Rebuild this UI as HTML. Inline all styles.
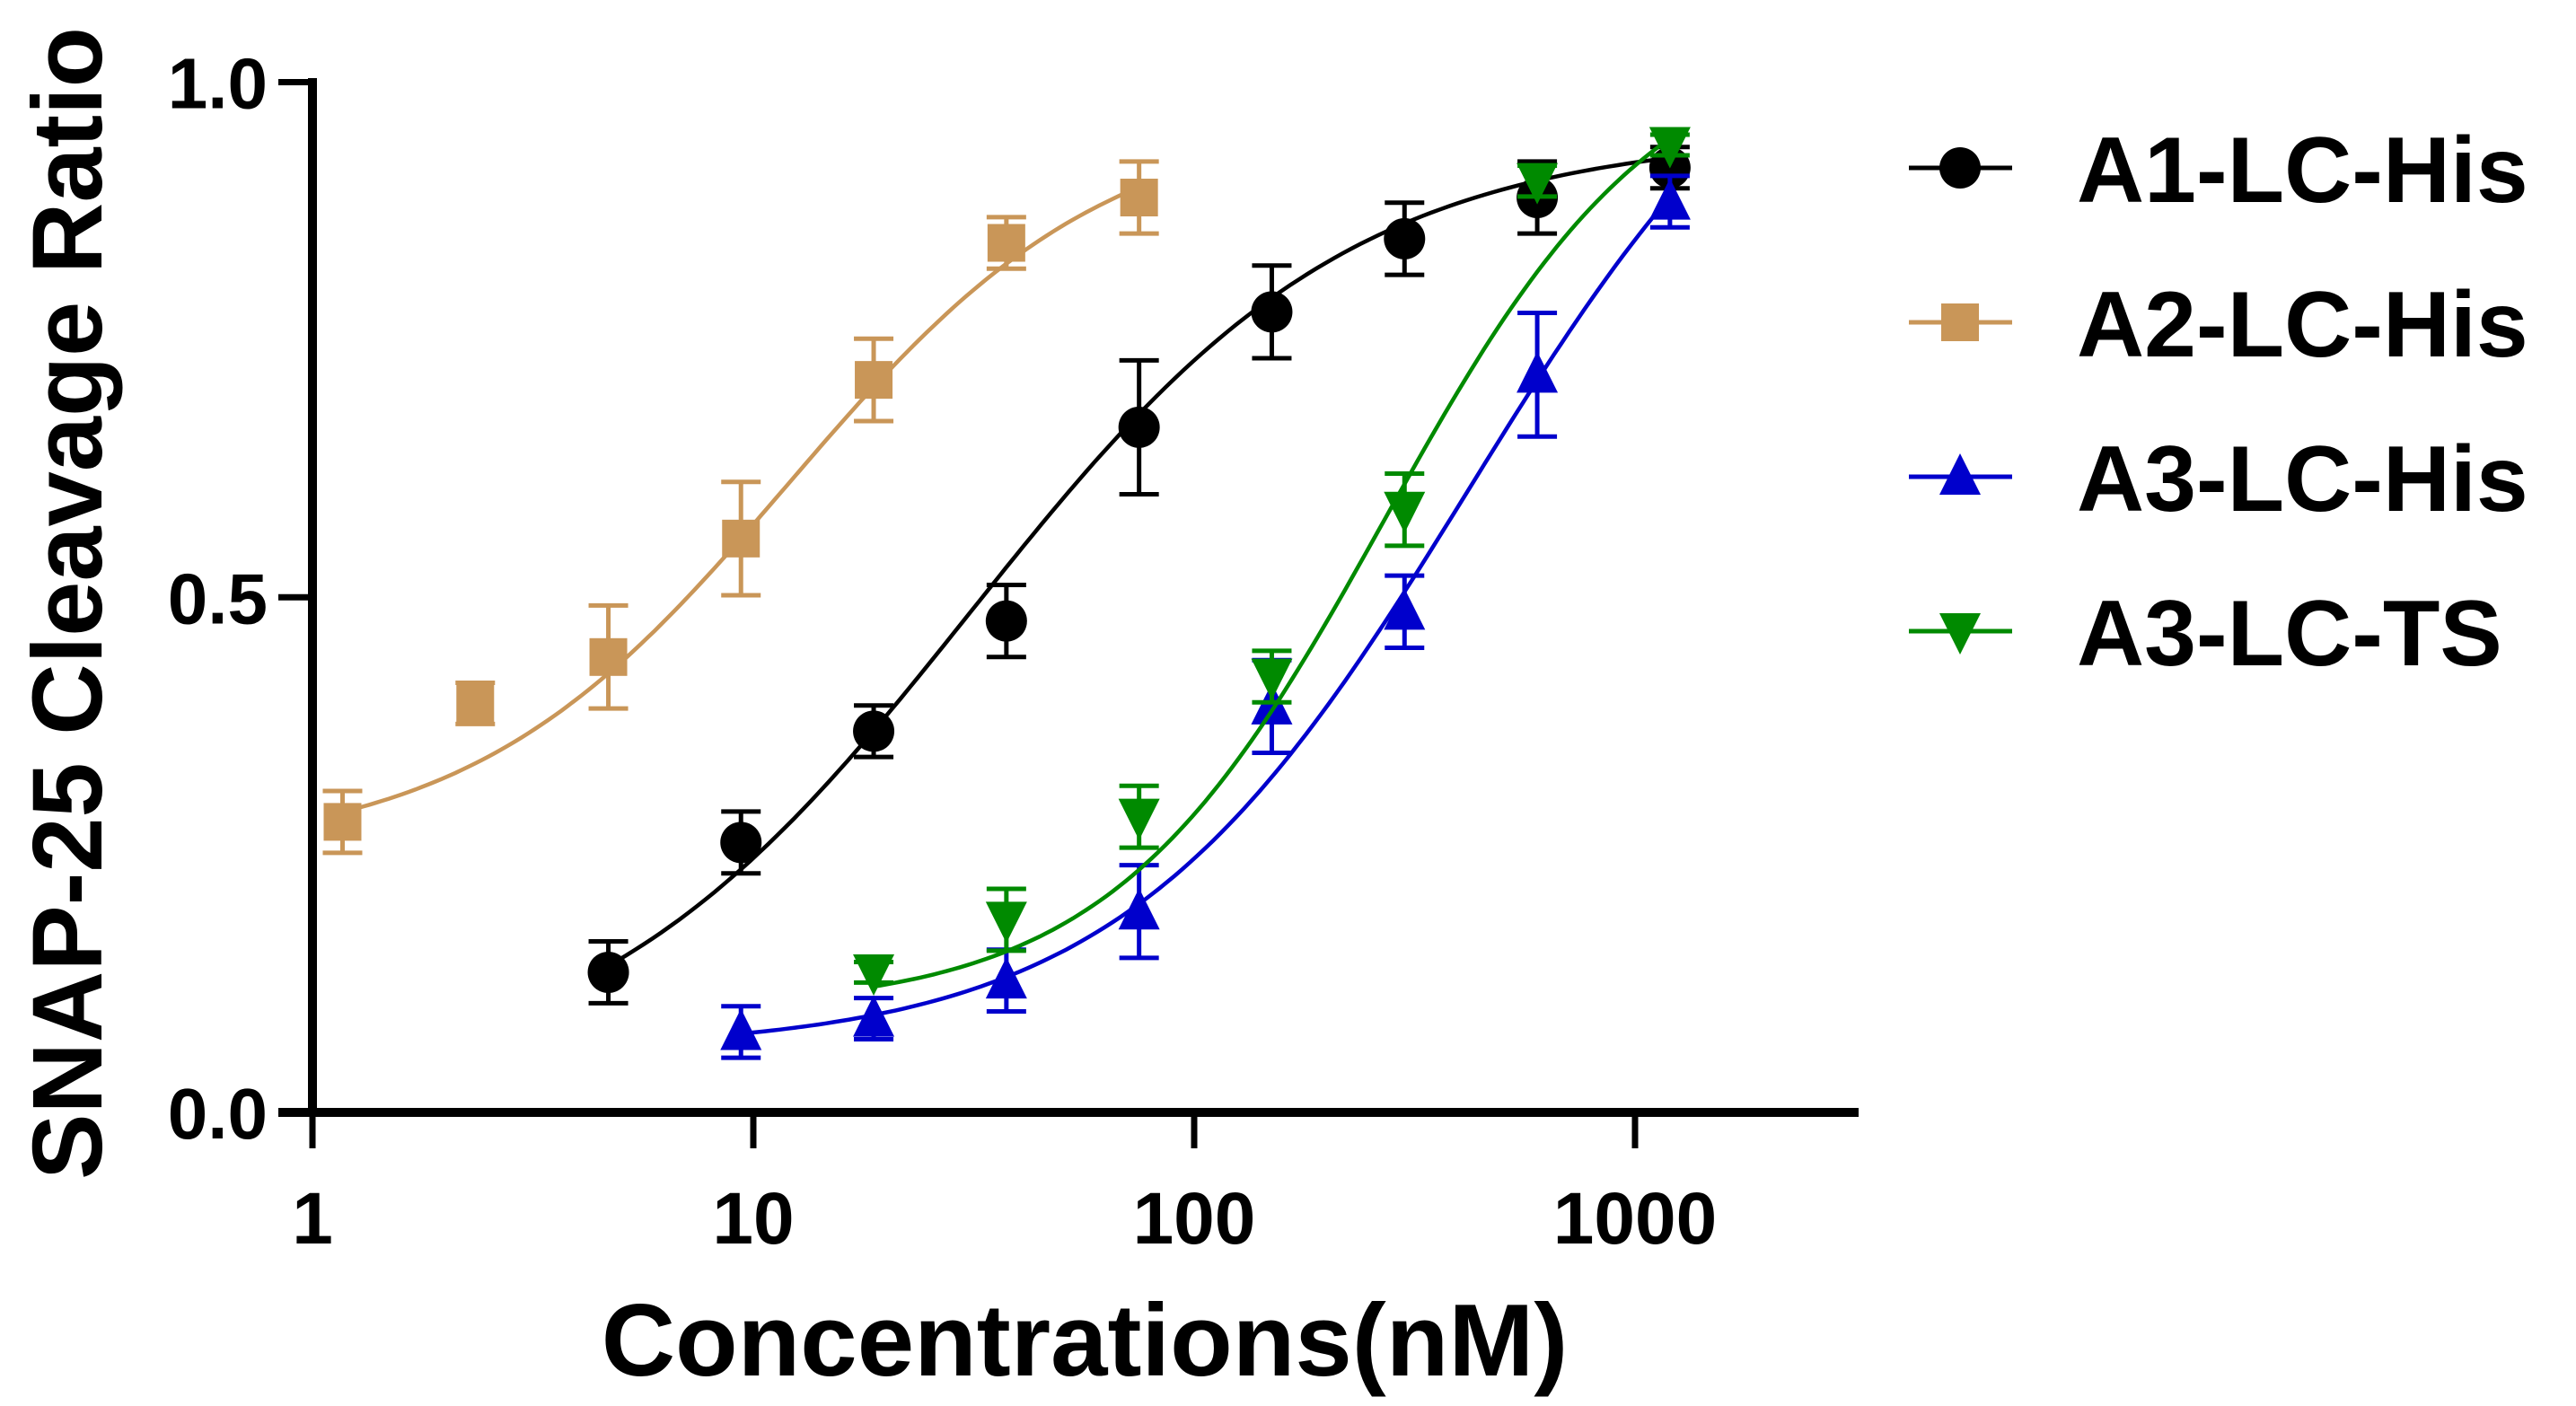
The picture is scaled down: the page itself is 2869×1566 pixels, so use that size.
<!DOCTYPE html>
<html><head><meta charset="utf-8"><style>
html,body{margin:0;padding:0;background:#fff;}
svg{display:block;}
text{font-family:"Liberation Sans",Arial,sans-serif;font-weight:bold;fill:#000;}
</style></head><body>
<svg id="chart" width="2869" height="1566" viewBox="0 0 2869 1566" xmlns="http://www.w3.org/2000/svg"></svg>
<script>
const xTicks = [1, 10, 100, 1000];
const xTickLabels = ["1", "10", "100", "1000"];
const yTicks = [0, 0.5, 1.0];
const yTickLabels = ["0.0", "0.5", "1.0"];
const seriesNames = ["A1-LC-His", "A2-LC-His", "A3-LC-His", "A3-LC-TS"];
const a1X = [4.69, 9.375, 18.75, 37.5, 75, 150, 300, 600, 1200];
const a1Y = [0.136, 0.262, 0.37, 0.477, 0.665, 0.777, 0.848, 0.888, 0.917];
const a1Err = [0.03, 0.03, 0.025, 0.035, 0.065, 0.045, 0.035, 0.035, 0.02];
const a2X = [1.17, 2.34, 4.69, 9.375, 18.75, 37.5, 75];
const a2Y = [0.282, 0.397, 0.442, 0.557, 0.711, 0.844, 0.888];
const a2Err = [0.03, 0.02, 0.05, 0.055, 0.04, 0.025, 0.035];
const a3X = [9.375, 18.75, 37.5, 75, 150, 300, 600, 1200];
const a3Y = [0.078, 0.091, 0.128, 0.195, 0.394, 0.486, 0.716, 0.884];
const a3Err = [0.025, 0.02, 0.03, 0.045, 0.045, 0.035, 0.06, 0.025];
const tsX = [18.75, 37.5, 75, 150, 300, 600, 1200];
const tsY = [0.136, 0.187, 0.287, 0.423, 0.585, 0.904, 0.939];
const tsErr = [0.01, 0.03, 0.03, 0.025, 0.035, 0.015, 0.01];
// 4PL fit parameters: bottom, top, EC50, hill
const a1Fit = [0.02, 0.95, 31, 1.0];
const a2Fit = [0.25, 0.97, 12, 1.2];
const a3Fit = [0.06, 1.15, 420, 1.1];
const tsFit = [0.1, 1.05, 270, 1.4];

const NS = "http://www.w3.org/2000/svg";
const svg = document.getElementById('chart');
const X0 = 348, DEC = 491, Y0 = 1239, YH = 1147.5;
const xs = v => X0 + Math.log10(v) * DEC;
const ys = v => Y0 - v * YH;
function el(tag, attrs, parent) {
  const e = document.createElementNS(NS, tag);
  for (const k in attrs) e.setAttribute(k, attrs[k]);
  (parent || svg).appendChild(e);
  return e;
}
const fourPL = (p, x) => p[0] + (p[1] - p[0]) / (1 + Math.pow(p[2] / x, p[3]));

let g = el('g', {});


let ax = el('line', {x1: X0, y1: 87, x2: X0, y2: Y0 + 5, stroke: '#000', 'stroke-width': 10}, g);


ax = el('line', {x1: 310, y1: Y0, x2: 2070, y2: Y0, stroke: '#000', 'stroke-width': 10}, g);


xTicks.forEach((t, i) => {
  const x = xs(t);
  const l = el('line', {x1: x, y1: Y0, x2: x, y2: Y0 + 40, stroke: '#000', 'stroke-width': 7}, g);
  
  
  const tx = el('text', {x: x, y: 1385, 'text-anchor': 'middle', 'font-size': 82}, g);
  tx.textContent = xTickLabels[i];
  
  
});
yTicks.forEach((t, i) => {
  const y = ys(t);
  const l = el('line', {x1: 310, y1: y, x2: X0, y2: y, stroke: '#000', 'stroke-width': 7}, g);
  
  
  const tx = el('text', {x: 298, y: y + 29, 'text-anchor': 'end', 'font-size': 80}, g);
  tx.textContent = yTickLabels[i];
  
  
});
let t = el('text', {x: 1208, y: 1532, 'text-anchor': 'middle', 'font-size': 114});
t.textContent = 'Concentrations(nM)';


t = el('text', {x: 0, y: 0, 'text-anchor': 'middle', 'font-size': 110, transform: 'translate(113,672) rotate(-90)'});
t.textContent = 'SNAP-25 Cleavage Ratio';



function marker(type, cx, cy, color, parent) {
  let m;
  if (type === 'circle') m = el('circle', {cx, cy, r: 23, fill: color}, parent);
  else if (type === 'square') m = el('rect', {x: cx - 21, y: cy - 21, width: 42, height: 42, fill: color}, parent);
  else if (type === 'up') m = el('polygon', {points: `${cx},${cy-26} ${cx-23},${cy+20} ${cx+23},${cy+20}`, fill: color}, parent);
  else m = el('polygon', {points: `${cx},${cy+26} ${cx-23},${cy-20} ${cx+23},${cy-20}`, fill: color}, parent);
  return m;
}

const series = [
  {name: seriesNames[0], x: a1X, y: a1Y, e: a1Err, fit: a1Fit, color: '#000000', m: 'circle', key: 'a1-lc-his'},
  {name: seriesNames[1], x: a2X, y: a2Y, e: a2Err, fit: a2Fit, color: '#c99658', m: 'square', key: 'a2-lc-his'},
  {name: seriesNames[2], x: a3X, y: a3Y, e: a3Err, fit: a3Fit, color: '#0000cc', m: 'up', key: 'a3-lc-his'},
  {name: seriesNames[3], x: tsX, y: tsY, e: tsErr, fit: tsFit, color: '#008a00', m: 'down', key: 'a3-lc-ts'}
];
series.forEach((s, si) => {
  const sg = el('g', {});
  
  
  const lo = Math.log10(s.x[0]), hi = Math.log10(s.x[s.x.length - 1]);
  let d = '';
  for (let i = 0; i <= 120; i++) {
    const xv = Math.pow(10, lo + (hi - lo) * i / 120);
    d += (i ? 'L' : 'M') + xs(xv).toFixed(1) + ',' + ys(fourPL(s.fit, xv)).toFixed(1);
  }
  const c = el('path', {d, fill: 'none', stroke: s.color, 'stroke-width': 4.5}, sg);
  
  
  s.x.forEach((xv, i) => {
    const cx = xs(xv), cy = ys(s.y[i]), top = ys(s.y[i] + s.e[i]), bot = ys(s.y[i] - s.e[i]);
    const eb = el('path', {d: `M${cx},${top}L${cx},${bot}M${cx-22},${top}L${cx+22},${top}M${cx-22},${bot}L${cx+22},${bot}`, stroke: s.color, 'stroke-width': 5, fill: 'none'}, sg);
    
    
    const m = marker(s.m, cx, cy, s.color, sg);
    
    
  });
  const ly = 187 + si * 172;
  const lg = el('g', {});
  
  
  el('line', {x1: 2126, y1: ly, x2: 2241, y2: ly, stroke: s.color, 'stroke-width': 5}, lg);
  marker(s.m, 2183, ly, s.color, lg);
  const lt = el('text', {x: 2313, y: ly + 38, 'font-size': 104}, lg);
  lt.textContent = s.name;
});
</script>
</body></html>
